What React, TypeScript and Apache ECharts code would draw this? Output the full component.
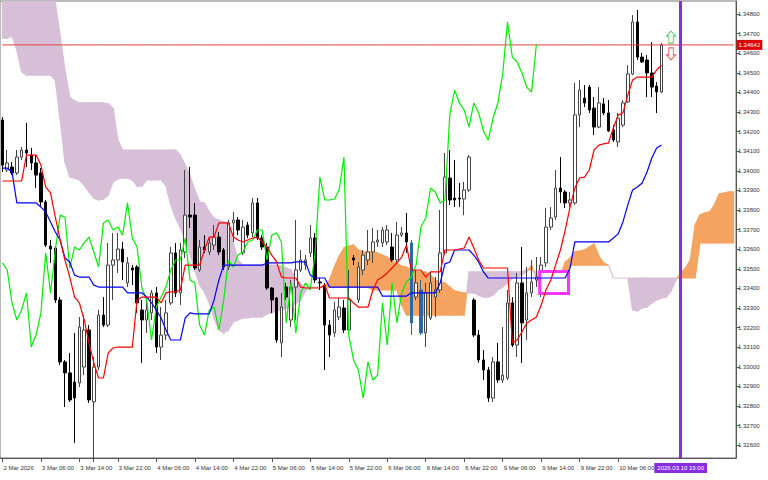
import { useEffect, useRef } from "react";
import * as echarts from "echarts";

// ---- candles (H1, bar 0 = 2 Mar 22:00) ----
const OPEN = [
  1.34259,1.34004,1.34019,1.33989,1.34070,1.34106,1.34080,1.34040,1.33989,1.33841,
  1.33616,1.33606,1.33341,1.33025,1.32969,1.32923,1.32918,1.32999,1.33188,1.32821,
  1.32999,1.33264,1.33213,1.33519,1.33545,1.33601,1.33428,1.33504,1.33509,1.33290,
  1.33239,1.33275,1.33377,1.33101,1.33162,1.33326,1.33581,1.33377,1.33586,1.33774,
  1.33774,1.33494,1.33611,1.33586,1.33621,1.33662,1.33596,1.33509,1.33734,1.33749,
  1.33581,1.33723,1.33683,1.33836,1.33657,1.33611,1.33402,1.33351,1.33122,1.33407,
  1.33239,1.33407,1.33494,1.33519,1.33581,1.33657,1.33433,1.33417,1.33213,1.33173,
  1.33254,1.33300,1.33188,1.33555,1.33341,1.33494,1.33545,1.33586,1.33637,1.33632,
  1.33637,1.33611,1.33545,1.33672,1.33683,1.33632,1.33356,1.33392,1.33173,1.33249,
  1.33356,1.33392,1.33581,1.33963,1.33861,1.33861,1.33856,1.33902,1.33341,1.33162,
  1.33035,1.32984,1.32841,1.33025,1.32933,1.32943,1.33326,1.33111,1.33428,1.33239,
  1.33377,1.33443,1.33428,1.33530,1.33713,1.33764,1.33912,1.33892,1.33836,1.33836,
  1.34285,1.34371,1.34427,1.34320,1.34223,1.34341,1.34295,1.34208,1.34147,1.34233,
  1.34351,1.34494,1.34759,1.34580,1.34565,1.34499,1.34432,1.34402,
];
const CLOSE = [
  1.34029,1.34040,1.33989,1.34070,1.34106,1.34091,1.34040,1.33978,1.33841,1.33621,
  1.33601,1.33341,1.33025,1.32969,1.32831,1.32841,1.33203,1.33188,1.32831,1.32999,
  1.33264,1.33213,1.33519,1.33545,1.33601,1.33535,1.33530,1.33494,1.33326,1.33239,
  1.33290,1.33377,1.33101,1.33162,1.33275,1.33581,1.33377,1.33596,1.33774,1.33764,
  1.33504,1.33611,1.33596,1.33632,1.33662,1.33586,1.33509,1.33734,1.33749,1.33698,
  1.33713,1.33672,1.33836,1.33657,1.33611,1.33402,1.33341,1.33137,1.33305,1.33356,
  1.33407,1.33494,1.33545,1.33545,1.33657,1.33443,1.33428,1.33213,1.33162,1.33290,
  1.33305,1.33188,1.33341,1.33545,1.33509,1.33570,1.33586,1.33637,1.33647,1.33698,
  1.33698,1.33545,1.33672,1.33683,1.33637,1.33224,1.33428,1.33173,1.33377,1.33428,
  1.33392,1.33581,1.33968,1.33851,1.33851,1.33856,1.33902,1.34070,1.33162,1.33035,
  1.32984,1.32841,1.33025,1.32933,1.32958,1.33326,1.33111,1.33428,1.33224,1.33377,
  1.33433,1.33458,1.33519,1.33713,1.33759,1.33912,1.33892,1.33836,1.33851,1.34285,
  1.34412,1.34346,1.34310,1.34223,1.34346,1.34295,1.34203,1.34157,1.34269,1.34346,
  1.34494,1.34759,1.34580,1.34555,1.34499,1.34427,1.34402,1.34642,
];
const HIGH = [
  1.34274,1.34106,1.34045,1.34106,1.34121,1.34244,1.34116,1.34080,1.34014,1.33851,
  1.33647,1.33616,1.33356,1.33035,1.33071,1.33173,1.33254,1.33264,1.33213,1.33050,
  1.33290,1.33356,1.33632,1.33683,1.33683,1.33637,1.33560,1.33519,1.33519,1.33341,
  1.33356,1.33392,1.33407,1.33305,1.33341,1.33611,1.33632,1.33632,1.34004,1.34019,
  1.33836,1.33647,1.33672,1.33657,1.33723,1.33688,1.33606,1.33749,1.33790,1.33764,
  1.33749,1.33739,1.33861,1.33861,1.33672,1.33632,1.33407,1.33356,1.33377,1.33428,
  1.33443,1.33749,1.33596,1.33570,1.33723,1.33683,1.33453,1.33428,1.33239,1.33331,
  1.33351,1.33341,1.33494,1.33570,1.33535,1.33596,1.33698,1.33708,1.33698,1.33713,
  1.33723,1.33683,1.33739,1.33713,1.33785,1.33647,1.33494,1.33443,1.33428,1.33484,
  1.33458,1.33800,1.34091,1.34106,1.34055,1.33938,1.33943,1.34080,1.33351,1.33188,
  1.33086,1.32999,1.33050,1.33122,1.33203,1.33392,1.33356,1.33479,1.33611,1.33509,
  1.33545,1.33560,1.33560,1.33810,1.33815,1.34004,1.34070,1.33902,1.33892,1.34448,
  1.34463,1.34437,1.34437,1.34376,1.34427,1.34371,1.34361,1.34233,1.34295,1.34361,
  1.34539,1.34794,1.34820,1.34601,1.34590,1.34657,1.34453,1.34652,
];
const LOW = [
  1.33994,1.33994,1.33978,1.33978,1.34055,1.34019,1.34004,1.33912,1.33815,1.33611,
  1.33530,1.33326,1.33009,1.32795,1.32821,1.32612,1.32897,1.32958,1.32816,1.32515,
  1.32984,1.33203,1.33203,1.33341,1.33479,1.33443,1.33407,1.33417,1.33275,1.33020,
  1.33173,1.33239,1.33071,1.33035,1.33137,1.33315,1.33356,1.33315,1.33555,1.33708,
  1.33494,1.33484,1.33581,1.33570,1.33596,1.33570,1.33494,1.33494,1.33637,1.33672,
  1.33570,1.33657,1.33662,1.33647,1.33596,1.33392,1.33275,1.33122,1.33050,1.33341,
  1.33203,1.33239,1.33484,1.33494,1.33560,1.33428,1.33392,1.32984,1.33050,1.33152,
  1.33239,1.33173,1.33173,1.33519,1.33326,1.33468,1.33519,1.33530,1.33611,1.33611,
  1.33621,1.33535,1.33530,1.33662,1.33581,1.33162,1.33341,1.33162,1.33101,1.33239,
  1.33254,1.33377,1.33570,1.33825,1.33815,1.33815,1.33774,1.33892,1.33152,1.33020,
  1.32933,1.32821,1.32821,1.32918,1.32918,1.32933,1.33101,1.33050,1.33020,1.33137,
  1.33356,1.33407,1.33356,1.33509,1.33698,1.33749,1.33836,1.33810,1.33815,1.33826,
  1.34223,1.34325,1.34295,1.34182,1.34218,1.34284,1.34198,1.34147,1.34121,1.34223,
  1.34346,1.34488,1.34565,1.34550,1.34376,1.34376,1.34295,1.34397,
];

// ---- Ichimoku lines ----
const TENKAN = [
  1.33948,1.33948,1.33948,1.33948,1.33948,1.34080,1.34080,1.34080,1.34029,1.33917,
  1.33887,1.33764,1.33647,1.33545,1.33458,1.33356,1.33326,1.33239,1.33122,1.33020,
  1.32943,1.32943,1.33071,1.33096,1.33101,1.33101,1.33101,1.33101,1.33341,1.33356,
  1.33356,1.33356,1.33356,1.33326,1.33377,1.33382,1.33382,1.33392,1.33519,1.33519,
  1.33519,1.33519,1.33596,1.33662,1.33662,1.33734,1.33734,1.33734,1.33662,1.33647,
  1.33637,1.33647,1.33657,1.33662,1.33637,1.33611,1.33570,1.33535,1.33458,1.33453,
  1.33453,1.33453,1.33407,1.33402,1.33402,1.33402,1.33402,1.33417,1.33351,1.33351,
  1.33351,1.33351,1.33351,1.33326,1.33305,1.33305,1.33305,1.33392,1.33443,1.33458,
  1.33479,1.33504,1.33530,1.33560,1.33621,1.33494,1.33494,1.33494,1.33458,1.33484,
  1.33484,1.33484,1.33596,1.33596,1.33596,1.33601,1.33606,1.33662,1.33606,1.33545,
  1.33504,1.33504,1.33504,1.33504,1.33504,1.33504,1.33122,1.33137,1.33178,1.33224,
  1.33239,1.33254,1.33315,1.33392,1.33443,1.33519,1.33596,1.33698,1.33815,1.33912,
  1.33963,1.33968,1.34004,1.34106,1.34131,1.34137,1.34142,1.34218,1.34284,1.34295,
  1.34386,1.34463,1.34478,1.34478,1.34478,1.34478,1.34514,1.34539,
];
const KIJUN = [
  1.34014,1.34014,1.33994,1.33836,1.33836,1.33836,1.33836,1.33836,1.33815,1.33790,
  1.33739,1.33688,1.33647,1.33555,1.33535,1.33468,1.33458,1.33458,1.33458,1.33417,
  1.33407,1.33407,1.33407,1.33407,1.33407,1.33407,1.33377,1.33377,1.33377,1.33377,
  1.33356,1.33326,1.33290,1.33249,1.33188,1.33137,1.33137,1.33137,1.33249,1.33275,
  1.33270,1.33270,1.33270,1.33270,1.33341,1.33443,1.33519,1.33519,1.33519,1.33519,
  1.33519,1.33519,1.33519,1.33519,1.33519,1.33530,1.33530,1.33530,1.33530,1.33530,
  1.33530,1.33535,1.33535,1.33535,1.33468,1.33453,1.33453,1.33453,1.33407,1.33407,
  1.33407,1.33407,1.33407,1.33407,1.33407,1.33407,1.33407,1.33407,1.33407,1.33361,
  1.33361,1.33361,1.33361,1.33361,1.33361,1.33377,1.33377,1.33377,1.33377,1.33377,
  1.33377,1.33428,1.33525,1.33535,1.33596,1.33596,1.33596,1.33596,1.33570,1.33535,
  1.33484,1.33453,1.33453,1.33453,1.33453,1.33453,1.33453,1.33453,1.33453,1.33453,
  1.33453,1.33453,1.33453,1.33453,1.33453,1.33453,1.33453,1.33453,1.33504,1.33637,
  1.33637,1.33637,1.33637,1.33637,1.33637,1.33637,1.33637,1.33657,1.33678,1.33739,
  1.33825,1.33902,1.33917,1.33938,1.33994,1.34065,1.34116,1.34131,
];
// Senkou spans, already shifted 26 bars forward (bar 0..152)
const SPAN_A = [
  1.34677,1.34677,1.34687,1.34616,1.34504,1.34488,1.34488,1.34488,1.34488,1.34488,
  1.34488,1.34463,1.34259,1.34045,1.33968,1.33963,1.33953,1.33927,1.33892,1.33861,
  1.33851,1.33856,1.33876,1.33943,1.33958,1.33963,1.33963,1.33953,1.33922,1.33922,
  1.33953,1.33953,1.33953,1.33953,1.33922,1.33825,1.33759,1.33708,1.33647,1.33570,
  1.33494,1.33417,1.33382,1.33326,1.33249,1.33188,1.33173,1.33188,1.33229,1.33239,
  1.33249,1.33249,1.33254,1.33254,1.33254,1.33270,1.33275,1.33285,1.33290,1.33300,
  1.33310,1.33321,1.33341,1.33387,1.33407,1.33407,1.33407,1.33407,1.33443,1.33509,
  1.33565,1.33606,1.33616,1.33621,1.33596,1.33586,1.33586,1.33586,1.33581,1.33570,
  1.33560,1.33540,1.33530,1.33514,1.33509,1.33494,1.33489,1.33484,1.33484,1.33468,
  1.33443,1.33433,1.33428,1.33407,1.33387,1.33382,1.33377,1.33377,1.33377,1.33366,
  1.33356,1.33356,1.33366,1.33392,1.33407,1.33428,1.33453,1.33458,1.33468,1.33484,
  1.33519,1.33443,1.33423,1.33417,1.33417,1.33433,1.33463,1.33535,1.33555,1.33586,
  1.33591,1.33596,1.33611,1.33627,1.33565,1.33530,1.33519,1.33453,1.33453,1.33453,
  1.33453,1.33290,1.33285,1.33300,1.33305,1.33326,1.33341,1.33351,1.33356,1.33387,
  1.33443,1.33479,1.33504,1.33545,1.33723,1.33774,1.33785,1.33790,1.33825,1.33882,
  1.33887,1.33892,1.33892,
];
const SPAN_B = [
  1.34973,1.34973,1.34973,1.34973,1.34973,1.34973,1.34973,1.34973,1.34973,1.34973,
  1.34973,1.34856,1.34692,1.34514,1.34376,1.34356,1.34346,1.34346,1.34346,1.34346,
  1.34346,1.34346,1.34341,1.34320,1.34157,1.34106,1.34106,1.34106,1.34106,1.34106,
  1.34106,1.34106,1.34106,1.34106,1.34106,1.34106,1.34106,1.34080,1.34029,1.33978,
  1.33902,1.33841,1.33836,1.33790,1.33759,1.33749,1.33739,1.33723,1.33632,1.33545,
  1.33519,1.33519,1.33519,1.33519,1.33519,1.33519,1.33519,1.33519,1.33514,1.33504,
  1.33494,1.33453,1.33423,1.33407,1.33407,1.33407,1.33407,1.33407,1.33407,1.33407,
  1.33407,1.33407,1.33407,1.33407,1.33407,1.33407,1.33407,1.33392,1.33392,1.33392,
  1.33392,1.33392,1.33392,1.33315,1.33264,1.33264,1.33264,1.33264,1.33264,1.33264,
  1.33264,1.33264,1.33264,1.33264,1.33264,1.33264,1.33264,1.33484,1.33484,1.33484,
  1.33484,1.33484,1.33484,1.33484,1.33484,1.33484,1.33484,1.33484,1.33484,1.33494,
  1.33494,1.33484,1.33484,1.33484,1.33484,1.33484,1.33468,1.33453,1.33519,1.33519,
  1.33519,1.33519,1.33519,1.33519,1.33519,1.33519,1.33519,1.33453,1.33453,1.33453,
  1.33453,1.33453,1.33453,1.33453,1.33453,1.33453,1.33453,1.33453,1.33453,1.33453,
  1.33453,1.33453,1.33453,1.33453,1.33453,1.33632,1.33632,1.33632,1.33632,1.33632,
  1.33632,1.33632,1.33632,
];

// ---- axis labels (every 8 bars from bar 0) ----
const TICK_LABELS = [
  "2 Mar 2026", "3 Mar 06:00", "3 Mar 14:00", "3 Mar 22:00", "4 Mar 06:00",
  "4 Mar 14:00", "4 Mar 22:00", "5 Mar 06:00", "5 Mar 14:00", "5 Mar 22:00",
  "6 Mar 06:00", "6 Mar 14:00", "6 Mar 22:00", "9 Mar 06:00", "9 Mar 14:00",
  "9 Mar 22:00", "10 Mar 06:00",
];
const TICK_STEP = 8;
const CHIKOU_SHIFT = 26;
const BLUE_BARS = [85, 87];

// ---- objects ----
const VLINE_INDEX = 141;
const VLINE_LABEL = "2026.03.10 19:00";
const RECT = [112, 1.33486, 118, 1.33374]; // x0, top, x1, bottom
const ARROW_UP = { x: 139, price: 1.34682 };
const ARROW_DOWN = { x: 139, price: 1.34596 };

const Y_MIN = 1.32535;
const Y_MAX = 1.34866;

const ORANGE = "#F4A460";
const THISTLE = "#D8BFD8";
const FONT = "'Liberation Sans', Arial, sans-serif";

export default function App() {
  const ref = useRef<HTMLDivElement>(null);
  useEffect(() => {
    document.body.style.margin = "0";
    const chart = echarts.init(ref.current!, null, { renderer: "svg" });
    const nCat = SPAN_A.length;
    const cats = Array.from({ length: nCat }, (_, i) => String(i));
    const bid = CLOSE[CLOSE.length - 1];

    const candleData = OPEN.map((o, i) => {
      const v = [o, CLOSE[i], LOW[i], HIGH[i]];
      if (BLUE_BARS.includes(i)) {
        return { value: v, itemStyle: { color0: "#2b68a8", borderColor0: "#2b68a8" } };
      }
      return v;
    });
    const chikou = CLOSE.map((_, i) => (i + CHIKOU_SHIFT < CLOSE.length ? CLOSE[i + CHIKOU_SHIFT] : null));
    const cloudData = SPAN_A.slice(0, -1).map((a, i) => [i, a, SPAN_B[i], SPAN_A[i + 1], SPAN_B[i + 1]]);
    const bidData = cats.map(() => bid);

    const showTick = (idx: number) => idx % TICK_STEP === 0 && idx / TICK_STEP < TICK_LABELS.length;

    const option: any = {
      animation: false,
      backgroundColor: "#ffffff",
      grid: { left: 0, right: 32, top: 1, bottom: 22, show: true, borderColor: "#777", borderWidth: 1 },
      xAxis: {
        type: "category",
        data: cats,
        boundaryGap: true,
        axisLine: { show: true, lineStyle: { color: "#555", width: 1 } },
        axisTick: { show: true, interval: (idx: number) => showTick(idx), alignWithLabel: true, length: 4, lineStyle: { color: "#555" } },
        axisLabel: {
          show: true,
          interval: (idx: number) => showTick(idx),
          formatter: (_v: string, idx: number) => TICK_LABELS[idx / TICK_STEP] ?? "",
          align: "left",
          fontSize: 6,
          fontFamily: FONT,
          color: "#333",
          margin: 7,
          padding: [0, 0, 0, 1],
        },
        splitLine: { show: false },
      },
      yAxis: {
        type: "value",
        position: "right",
        min: Y_MIN,
        max: Y_MAX,
        splitNumber: 23,
        scale: true,
        axisLine: { show: true, lineStyle: { color: "#555", width: 1 } },
        axisTick: { show: true, length: 4, lineStyle: { color: "#555" } },
        axisLabel: {
          show: true,
          showMinLabel: false,
          showMaxLabel: false,
          formatter: (v: number) => v.toFixed(5),
          fontSize: 6,
          fontFamily: FONT,
          color: "#333",
          margin: 2,
        },
        splitLine: { show: false },
      },
      series: [
        {
          type: "custom",
          name: "cloud",
          clip: true,
          z: 1,
          silent: true,
          encode: { x: 0, y: [1, 2, 3, 4] },
          data: cloudData,
          renderItem: (_params: any, api: any) => {
            const i = api.value(0);
            const a0 = api.value(1), b0 = api.value(2), a1 = api.value(3), b1 = api.value(4);
            const X0 = api.coord([i, a0])[0];
            const X1 = api.coord([i + 1, a1])[0];
            const Y = (v: number) => api.coord([i, v])[1];
            const children: any[] = [];
            const poly = (pts: number[][], c: string) =>
              children.push({ type: "polygon", shape: { points: pts }, style: { fill: c, stroke: c, lineWidth: 1.2 } });
            const d0 = a0 - b0, d1 = a1 - b1;
            if (d0 * d1 >= 0) {
              poly([[X0, Y(a0)], [X1, Y(a1)], [X1, Y(b1)], [X0, Y(b0)]], d0 + d1 > 0 ? ORANGE : THISTLE);
            } else {
              const t = d0 / (d0 - d1);
              const xc = X0 + t * (X1 - X0);
              const yc = Y(a0 + t * (a1 - a0));
              poly([[X0, Y(a0)], [xc, yc], [X0, Y(b0)]], d0 > 0 ? ORANGE : THISTLE);
              poly([[xc, yc], [X1, Y(a1)], [X1, Y(b1)]], d1 > 0 ? ORANGE : THISTLE);
            }
            return { type: "group", children };
          },
        },
        {
          type: "candlestick",
          name: "price",
          data: candleData,
          barWidth: 3,
          z: 2,
          silent: true,
          itemStyle: { color: "#ffffff", color0: "#000000", borderColor: "#444", borderColor0: "#000", borderWidth: 1 },
        },
        {
          type: "custom",
          name: "rectangle",
          clip: true,
          z: 3,
          silent: true,
          encode: { x: [0, 2], y: [1, 3] },
          data: [RECT],
          renderItem: (_params: any, api: any) => {
            const p0 = api.coord([api.value(0), api.value(1)]);
            const p1 = api.coord([api.value(2), api.value(3)]);
            return {
              type: "rect",
              shape: { x: p0[0] - 1.5, y: p0[1], width: p1[0] - p0[0], height: p1[1] - p0[1] },
              style: { fill: "#ffffff", stroke: "#ff33ff", lineWidth: 3 },
            };
          },
        },
        {
          type: "line", name: "bid", data: bidData, symbol: "none", z: 3, silent: true,
          lineStyle: { color: "#e04040", width: 1 },
          endLabel: {
            show: true, formatter: bid.toFixed(5), distance: 3,
            color: "#fff", backgroundColor: "#dd0000", fontSize: 6, fontFamily: FONT, padding: [2, 2],
          },
        },
        {
          type: "line", name: "chikou", data: chikou, symbol: "none", z: 4, silent: true,
          lineStyle: { color: "#00ee00", width: 1.2 },
        },
        {
          type: "line", name: "kijun", data: KIJUN, symbol: "none", z: 4, silent: true,
          lineStyle: { color: "#0000ff", width: 1.2 },
        },
        {
          type: "line", name: "tenkan", data: TENKAN, symbol: "none", z: 4, silent: true,
          lineStyle: { color: "#ff0000", width: 1.2 },
          markLine: {
            silent: true,
            symbol: ["none", "none"],
            data: [
              {
                xAxis: VLINE_INDEX,
                lineStyle: { color: "#8a2be2", width: 3, type: "solid" },
                label: {
                  show: true, position: "start", formatter: VLINE_LABEL, distance: 5,
                  color: "#fff", backgroundColor: "#8a2be2", fontSize: 6, fontFamily: FONT, padding: [2, 3],
                },
              },
            ],
          },
          markPoint: {
            silent: true,
            label: { show: false },
            data: [
              {
                coord: [ARROW_UP.x, ARROW_UP.price],
                symbol: "path://M4,0 L8,5 L6,5 L6,12 L2,12 L2,5 L0,5 Z",
                symbolSize: [9, 12],
                itemStyle: { color: "#ffffff", borderColor: "#55cc55", borderWidth: 1 },
              },
              {
                coord: [ARROW_DOWN.x, ARROW_DOWN.price],
                symbol: "path://M2,0 L6,0 L6,7 L8,7 L4,12 L0,7 L2,7 Z",
                symbolSize: [9, 12],
                itemStyle: { color: "#ffffff", borderColor: "#ff5555", borderWidth: 1 },
              },
            ],
          },
        },
      ],
    };
    chart.setOption(option);
    return () => chart.dispose();
  }, []);
  return (
    <div
      ref={ref}
      style={{ position: "fixed", left: 0, top: 0, width: 768, height: 480, background: "#fff" }}
    />
  );
}
